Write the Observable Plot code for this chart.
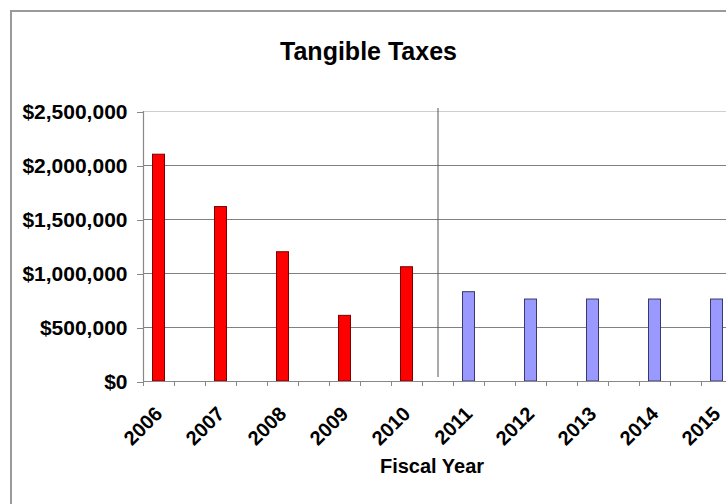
<!DOCTYPE html>
<html><head><meta charset="utf-8">
<script src="https://cdn.jsdelivr.net/npm/d3@7"></script>
<script src="https://cdn.jsdelivr.net/npm/@observablehq/plot@0.6"></script>
<style>
html,body{margin:0;padding:0;background:#fff;overflow:hidden;}
#wrap{position:relative;width:726px;height:504px;overflow:hidden;background:#fff;}
#wrap svg{position:absolute;left:0;top:0;}
#border{position:absolute;left:10px;top:10px;width:800px;height:600px;border:2px solid #9a9a9a;box-sizing:border-box;pointer-events:none;}
</style></head><body><div id="wrap"></div>
<script>
const years = ["2006","2007","2008","2009","2010","2011","2012","2013","2014","2015"];
const taxes = [2100000,1615000,1197000,608000,1058000,827000,759000,759000,759000,759000];
const status = ["Actual","Actual","Actual","Actual","Actual","Projected","Projected","Projected","Projected","Projected"];
const yTicks = [0,500000,1000000,1500000,2000000,2500000];
const chartTitle = "Tangible Taxes";
const xTitle = "Fiscal Year";
const fills = {Actual:"#FF0000", Projected:"#9999FF"};
const outlines = {Actual:"#7a0000", Projected:"#3a3a6a"};

const rows = years.map((year,i)=>({year, value:taxes[i], status:status[i], slot:2*i}));
const nSlots = years.length*2;
const divider = rows.findIndex(d=>d.status==="Projected")*2 - 0.5;
const yMax = yTicks[yTicks.length-1];
const font = "'Liberation Sans', Arial, sans-serif";

const plot = Plot.plot({
  width:726, height:504,
  marginTop:111, marginBottom:123, marginLeft:143, marginRight:0,
  style:{fontFamily:font, fontWeight:"bold", fontSize:"20px", color:"#000", background:"transparent", overflow:"visible"},
  x:{type:"linear", domain:[0,nSlots], range:[143,763], axis:null, label:null},
  y:{domain:[0,yMax], axis:null, label:null},
  marks:[
    Plot.ruleY(yTicks.filter(d=>d>0), {stroke:d=>d===yMax?"#cfcfcf":"#808080", strokeWidth:1.2, strokeOpacity:1}),
    Plot.ruleX([divider], {stroke:"#555", strokeWidth:1, insetTop:-3, insetBottom:4}),
    Plot.rectY(rows, {x1:"slot", x2:d=>d.slot+1, y:"value", fill:d=>fills[d.status], stroke:d=>outlines[d.status], strokeWidth:1, insetLeft:9.5, insetRight:9.5}),
    Plot.ruleX([0], {stroke:"#888", strokeWidth:1.2}),
    Plot.ruleY([0], {stroke:"#888", strokeWidth:1.2}),
    Plot.axisY(yTicks, {tickFormat:d=>"$"+d3.format(",")(d), tickSize:6, tickPadding:10, dy:1, stroke:"#888", fill:"#000", fontSize:21, fontWeight:"bold", label:null}),
    Plot.axisX(d3.range(0,nSlots+1), {tickSize:5, tickFormat:()=>"", stroke:"#888", label:null}),
    Plot.axisX(rows.map(d=>d.slot+0.5), {tickSize:0, tickRotate:-45, tickPadding:27, dx:0, dy:2, tickFormat:d=>years[Math.round((d-0.5)/2)], fill:"#000", fontSize:20, fontWeight:"bold", label:null}),
    Plot.text([chartTitle], {frameAnchor:"top", dx:-66.5, dy:-69, fontSize:25, fontWeight:"bold", fill:"#000"}),
    Plot.text([xTitle], {frameAnchor:"bottom", dx:-3, dy:91, fontSize:20, fontWeight:"bold", fill:"#000"})
  ]
});
const wrap = document.getElementById("wrap");
wrap.appendChild(plot);
const b = document.createElement("div"); b.id = "border"; wrap.appendChild(b);
</script></body></html>
